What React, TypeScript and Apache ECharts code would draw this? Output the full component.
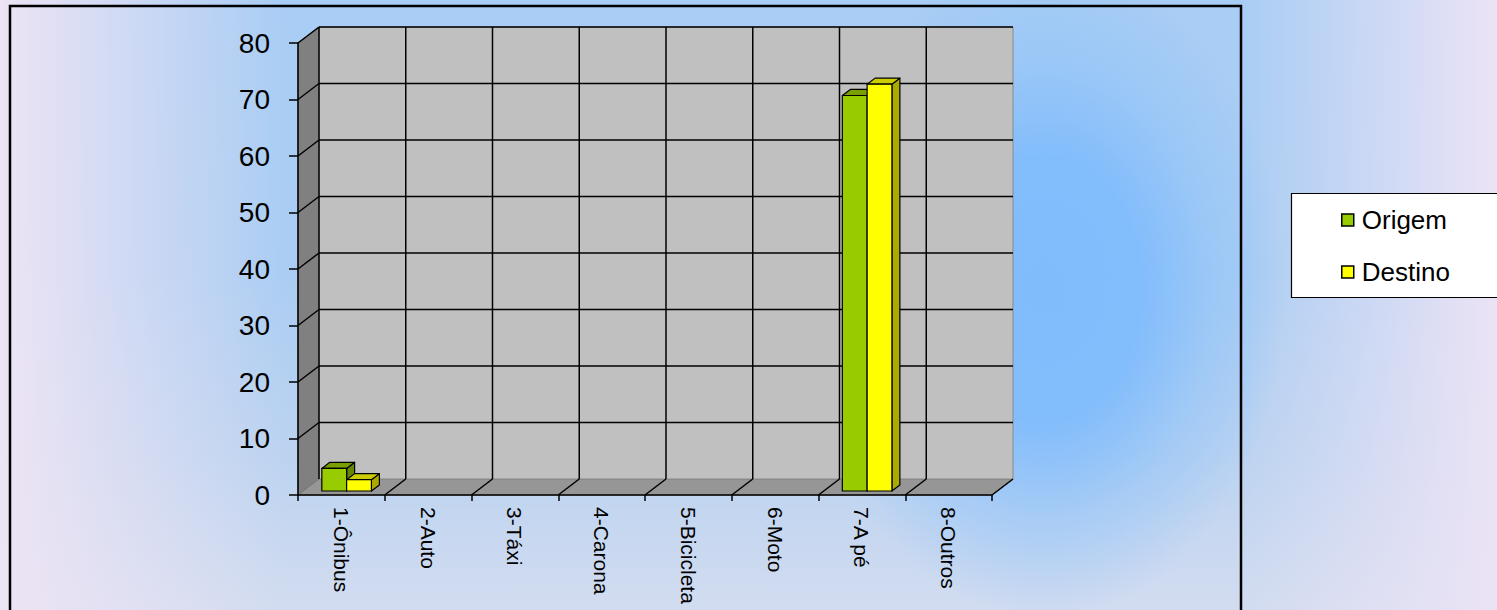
import React, { useEffect, useRef } from 'react';
import * as echarts from 'echarts';

const categories = ['1-Ônibus', '2-Auto', '3-Táxi', '4-Carona', '5-Bicicleta', '6-Moto', '7-A pé', '8-Outros'];
const origem = [4, 0, 0, 0, 0, 0, 70, 0];
const destino = [2, 0, 0, 0, 0, 0, 72, 0];
const yTicks = [0, 10, 20, 30, 40, 50, 60, 70, 80];
const seriesNames = ['Origem', 'Destino'];

const DX = 21;
const DY = 16;
const F0 = 0.25;
const F1 = 0.63;
const FONT = 'Arial, "Liberation Sans", sans-serif';

const faceColors = [
  { front: '#99CC00', top: '#7A9F00', side: '#668800' },
  { front: '#FFFF00', top: '#CCCC00', side: '#AAAA00' },
];

export default function App() {
  const ref = useRef<HTMLDivElement>(null);

  useEffect(() => {
    const chart = echarts.init(ref.current as HTMLDivElement, null, { renderer: 'svg' });

    const line = (x1: number, y1: number, x2: number, y2: number, stroke: string, lw: number) => ({
      type: 'line',
      shape: { x1, y1, x2, y2 },
      style: { stroke, lineWidth: lw },
    });

    const wallRender = (_params: any, api: any) => {
      const band = api.size([1, 0])[0];
      const x0 = api.coord([0, 0])[0] - band / 2;
      const x1 = api.coord([categories.length - 1, 0])[0] + band / 2;
      const y0 = api.coord([0, yTicks[0]])[1];
      const yTop = api.coord([0, yTicks[yTicks.length - 1]])[1];
      const children: any[] = [];
      children.push({
        type: 'polygon',
        shape: { points: [[x0, yTop], [x0 + DX, yTop - DY], [x0 + DX, y0 - DY], [x0, y0]] },
        style: { fill: '#808080', stroke: '#5a5a5a', lineWidth: 1 },
      });
      children.push({
        type: 'polygon',
        shape: { points: [[x0, y0], [x0 + DX, y0 - DY], [x1 + DX, y0 - DY], [x1, y0]] },
        style: { fill: '#969696', stroke: '#7a7a7a', lineWidth: 1 },
      });
      children.push({
        type: 'rect',
        shape: { x: x0 + DX, y: yTop - DY, width: x1 - x0, height: y0 - yTop },
        style: { fill: '#C0C0C0', stroke: '#8a8a8a', lineWidth: 1 },
      });
      yTicks.forEach((v) => {
        if (v === yTicks[0]) return;
        const y = api.coord([0, v])[1];
        children.push(line(x0 + DX, y - DY, x1 + DX, y - DY, '#000', 1.5));
        children.push(line(x0, y, x0 + DX, y - DY, '#000', 1.5));
      });
      for (let i = 0; i <= categories.length; i++) {
        const xb = x0 + i * band;
        if (i < categories.length) children.push(line(xb + DX, y0 - DY, xb + DX, yTop - DY, '#000', 1.5));
        if (i > 0) children.push(line(xb, y0, xb + DX, y0 - DY, '#000', 1.5));
      }
      return { type: 'group', children };
    };

    const barRender = (sIdx: number) => (_params: any, api: any) => {
      const ci = api.value(0);
      const v = api.value(1);
      if (!v) return null;
      const band = api.size([1, 0])[0];
      const w = band / 3.5;
      const cx = api.coord([ci, 0])[0];
      const xl = cx - w + sIdx * w;
      const xr = xl + w;
      const yb = api.coord([ci, 0])[1];
      const yt = api.coord([ci, v])[1];
      const a = F0 * DX, b = F0 * DY, a2 = F1 * DX, b2 = F1 * DY;
      const c = faceColors[sIdx];
      const st = (fill: string) => ({ fill, stroke: '#000', lineWidth: 1.2, lineJoin: 'round' });
      return {
        type: 'group',
        children: [
          {
            type: 'polygon',
            shape: { points: [[xr + a, yt - b], [xr + a2, yt - b2], [xr + a2, yb - b2], [xr + a, yb - b]] },
            style: st(c.side),
          },
          {
            type: 'polygon',
            shape: { points: [[xl + a, yt - b], [xr + a, yt - b], [xr + a2, yt - b2], [xl + a2, yt - b2]] },
            style: st(c.top),
          },
          {
            type: 'polygon',
            shape: { points: [[xl + a, yb - b], [xr + a, yb - b], [xr + a, yt - b], [xl + a, yt - b]] },
            style: st(c.front),
          },
        ],
      };
    };

    const option: any = {
      animation: false,
      textStyle: { fontFamily: FONT, color: '#000' },
      grid: { left: 298, top: 43, width: 694, height: 452, containLabel: false },
      xAxis: {
        type: 'category',
        data: categories,
        boundaryGap: true,
        axisLine: { show: true, lineStyle: { color: '#000', width: 1.5 } },
        axisTick: { show: true, length: 6, alignWithLabel: false, lineStyle: { color: '#000', width: 1.5 } },
        axisLabel: { rotate: -90, margin: 12, fontSize: 21, color: '#000', fontFamily: FONT, interval: 0 },
        splitLine: { show: false },
        z: 10,
      },
      yAxis: {
        type: 'value',
        min: 0,
        max: 80,
        interval: 10,
        axisLine: { show: true, lineStyle: { color: '#000', width: 1.5 } },
        axisTick: { show: true, length: 9, lineStyle: { color: '#000', width: 1.5 } },
        axisLabel: { margin: 28, fontSize: 28, color: '#000', fontFamily: FONT },
        splitLine: { show: false },
        z: 10,
      },
      legend: {
        orient: 'vertical',
        left: 1341,
        top: 207,
        padding: 0,
        itemGap: 26,
        itemWidth: 12,
        itemHeight: 12,
        icon: 'rect',
        itemStyle: { borderColor: '#000', borderWidth: 1.5 },
        textStyle: { fontSize: 26, color: '#000', fontFamily: FONT, padding: [0, 0, 0, 3] },
        data: seriesNames,
      },
      graphic: [
        {
          type: 'rect',
          shape: { x: 1291.5, y: 193.5, width: 220, height: 104 },
          style: { fill: '#ffffff', stroke: '#000', lineWidth: 1.2 },
          z: -1,
          silent: true,
        },
        {
          type: 'rect',
          shape: { x: 10, y: 6, width: 1231, height: 700 },
          style: { fill: 'none', stroke: '#000', lineWidth: 2.5 },
          z: 100,
          silent: true,
        },
      ],
      series: [
        {
          type: 'custom',
          name: '__walls',
          renderItem: wallRender,
          data: [[0, 0]],
          z: 1,
          silent: true,
        },
        {
          type: 'custom',
          name: seriesNames[0],
          renderItem: barRender(0),
          itemStyle: { color: faceColors[0].front },
          data: origem.map((v, i) => [i, v]),
          z: 3,
        },
        {
          type: 'custom',
          name: seriesNames[1],
          renderItem: barRender(1),
          itemStyle: { color: faceColors[1].front },
          data: destino.map((v, i) => [i, v]),
          z: 4,
        },
      ],
    };

    chart.setOption(option);
    return () => chart.dispose();
  }, []);

  return (
    <div
      ref={ref}
      style={{
        position: 'fixed',
        left: 0,
        top: 0,
        width: 1497,
        height: 610,
        background: [
          'radial-gradient(ellipse 240px 330px at 1045px 290px, rgba(128,188,252,1) 0%, rgba(128,188,252,0.95) 40%, rgba(140,194,250,0.5) 70%, rgba(160,200,245,0) 100%)',
          'linear-gradient(to right, rgba(237,228,244,1) 0%, rgba(237,228,244,0) 19%, rgba(237,228,244,0) 83%, rgba(235,227,245,1) 100%)',
          'linear-gradient(to bottom, #a9cdf4 0%, #abcdf3 45%, #bcd3f0 75%, #d2dcf0 100%)',
        ].join(', '),
      }}
    />
  );
}
